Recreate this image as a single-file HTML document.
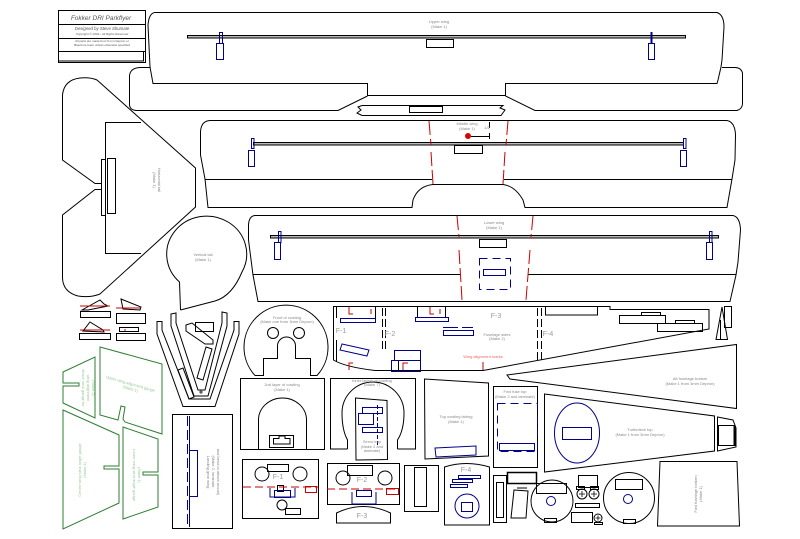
<!DOCTYPE html>
<html><head><meta charset="utf-8"><style>
html,body{margin:0;padding:0;background:#fff;}
svg{display:block;}
text{font-family:"Liberation Sans",sans-serif;}
.t{font-size:4px;fill:#888;text-anchor:middle;}
.f{font-size:7px;fill:#999;text-anchor:middle;}
.g{font-size:4px;fill:#9c9;text-anchor:middle;}
</style></head><body>
<svg width="800" height="539" viewBox="0 0 800 539" xmlns="http://www.w3.org/2000/svg">
<rect width="800" height="539" fill="#fff"/>
<g fill="none" stroke="#000" stroke-width="1">

<!-- Title block -->
<rect x="58.5" y="10.5" width="87" height="52"/>
<line x1="58.5" y1="24.5" x2="145.5" y2="24.5"/>
<line x1="58.5" y1="38.5" x2="145.5" y2="38.5"/>
<line x1="58.5" y1="51.5" x2="145.5" y2="51.5"/>
<line x1="143.5" y1="51.5" x2="143.5" y2="61"/>
<line x1="58.5" y1="61" x2="144" y2="61"/>

<!-- Upper wing -->
<path d="M155,12.5 L717,12.5 Q724,15 724,27 L722,60 L721,67 L718,80 L717,83.5 L505.5,83.5 L505.5,95.5 L367.5,95.5 L367.5,83.5 L153,83.5 L150,67 L148,25 Q149,13 155,12.5 Z"/>
<path d="M150,67.5 L140,67.5 Q130,68 129.5,76 L129.5,105 Q130,110 136,110.5 L338,110.5 L367.5,96 M505.5,96 L535,110.5 L737,110.5 Q742,109 742.5,104 L742.5,73 Q741,67.5 735,67.5 L722,67.5"/>
<path d="M362,105.5 L503,105.5 L500,108 L505,110 L501,115.5 L362,115.5 M362,105.5 L358,107 L361,110 L357,113 L362,115.5"/>
<rect x="409.5" y="106.5" width="33" height="6"/>
<rect x="187.5" y="35.5" width="498" height="2.5" fill="#bbb"/>
<rect x="426.5" y="39.5" width="27" height="8"/>

<!-- Middle wing -->
<path d="M210,120.5 L727,120.5 Q735,122 735.5,135 L735,160 L732,179 L727,207.5 L525,207.5 L523,200 Q515,186 503,184.5 L433,184.5 Q418,186 413,200 L412,207.5 L208,207.5 L205,179 L200.5,155 L200.5,132 Q201,121 210,120.5 Z"/>
<line x1="205" y1="179.5" x2="432" y2="179.5"/>
<line x1="504" y1="179.5" x2="732" y2="179.5"/>
<rect x="253.5" y="142.5" width="430" height="2.5" fill="#bbb"/>
<rect x="454.5" y="145.5" width="28" height="8"/>
<path d="M471,136.5 L489.5,136.5 M489.5,133 L489.5,139 M489.5,122 L489.5,128"/>

<!-- Lower wing -->
<path d="M255,215.5 L733,215.5 Q740,217 740.5,230 L738,262 L736,275 L730,301.5 L258,301.5 L253,275 L248.5,240 L248.5,225 Q249,216 255,215.5 Z"/>
<line x1="253" y1="274.5" x2="460" y2="274.5"/>
<line x1="528" y1="274.5" x2="736" y2="274.5"/>
<rect x="270.5" y="235.5" width="448" height="2.5" fill="#bbb"/>
<rect x="479.5" y="239.5" width="27" height="8"/>

<!-- Horizontal tail -->
<path d="M97,80 L195.5,168 L195.5,207 L100,294 Q90,298 78,296 Q63,292 62.5,278 L62.5,215 L95,189.5 L101,189.5 M101,183.5 L95,183.5 L62.5,160 L62.5,95 Q64,80 80,78 Q90,77 97,80"/>
<path d="M141,122.5 L105.5,122.5 L105.5,253.5 L141,253.5"/>
<rect x="101.5" y="159.5" width="4" height="56"/>
<rect x="107.5" y="158.5" width="8" height="55"/>

<!-- Vertical tail -->
<path d="M180.5,310 L179.5,282 A40,38 0 1 1 242,272 Q232,296 215,301 L180.5,310"/>

<!-- small parts left -->
<rect x="80.5" y="311.5" width="30" height="6"/>
<rect x="79.5" y="333.5" width="31" height="6"/>
<rect x="116.5" y="313.5" width="29" height="10"/>
<rect x="119.5" y="327.5" width="19" height="4"/>
<rect x="116.5" y="333.5" width="29" height="7"/>
<path d="M82,310 L100,300 L104,304 L108,306 L88,310 Z"/>
<path d="M121,299 L141,307 L140,310 L123,309 Z"/>
<path d="M83,331 L90,322 L103,330 L104,332 Z"/>

<!-- Landing gear V pieces -->
<path d="M157,321.5 L162,321.5 L162,330 L189,399 L210,399 L234,330 L234,321.5 L239,321.5 L239,334 L215,406.5 L183,406.5 L157,334 Z"/>
<path d="M171,314 L176,313 L176,323 L198,390 L205,390 L222,323 L222,312 L227,313 L227,326 L208,396 L194,396 L171,326 Z"/>
<path d="M186,325 L192,323 L213,340 L213,344 L205,344 L186,331 Z"/>
<rect x="195.5" y="322.5" width="18" height="9"/>
<path d="M206,347 L212,349 L203,380 L197,378 Z"/>
<path d="M178,370 L183,368 L194,397 L189,399 Z"/>

<!-- Front of cowling -->
<path d="M255,375.5 L263.5,375.5 L263.5,358.5 L277.5,358.5 L277.5,346 A9,9 0 0 1 295.5,346 L295.5,358.5 L310.5,358.5 L310.5,375.5 L317,375.5 A42,42 0 1 0 255,375.5"/>
<circle cx="273" cy="333" r="5.5"/>
<circle cx="299" cy="333" r="5.5"/>

<!-- Fuselage sides -->
<path d="M333.5,306.5 L610,306.5 L610,309.5 L709,309.5 L709,329 L483,370.5 L375,370.5 Q345,367 333.5,360 Z"/>
<path d="M382.5,308 L382.5,352 M385.5,308 L385.5,352" stroke-dasharray="8,3"/>
<path d="M537.5,308 L537.5,362 M541.5,308 L541.5,362" stroke-dasharray="8,3"/>
<path d="M336.5,307 L336.5,318 M375.5,307 L375.5,318 M417.5,307 L417.5,317 M445.5,307 L445.5,317"/>
<path d="M336.5,340 L336.5,362 M398.5,360 L398.5,370"/>
<rect x="545.5" y="306.5" width="52" height="8.5"/>
<rect x="619.5" y="315.5" width="46" height="8"/>
<rect x="657.5" y="323.5" width="45" height="8"/>
<rect x="641.5" y="312.5" width="19" height="3"/>
<rect x="675.5" y="320.5" width="19" height="3"/>
<!-- tailskid -->
<path d="M722,307 L716,339.5 L727.5,339.5 Z M720.5,320 L720.5,339"/>
<rect x="724.5" y="306.5" width="7" height="21"/>

<!-- Aft fuselage bottom -->
<path d="M507,375 L736.5,344.5 L736.5,408.5 L510,379 Z"/>

<!-- Turtledeck top -->
<path d="M544.5,394 L714.5,416 L714.5,451 L544.5,472 Z"/>
<path d="M717.5,417 L733,420 L736,428 L736,447 L717.5,451 Z"/>
<rect x="718.5" y="425.5" width="16" height="20"/>
<line x1="734.5" y1="425" x2="734.5" y2="446" stroke-width="2"/>

<!-- Fwd fuse top -->
<rect x="493.5" y="386.5" width="44" height="81"/>
<!-- Top cowling fairing -->
<path d="M424.5,379 L488.5,383 L488.5,456 L425,459 Z"/>

<!-- 2nd layer cowling -->
<rect x="240.5" y="378.5" width="84" height="71"/>
<path d="M258.5,449 L258.5,420 A24,22 0 0 1 306.5,420 L306.5,449"/>
<rect x="269.5" y="435.5" width="24" height="12"/>
<path d="M273.5,444 L273.5,438.5 L279,438.5 L279,436 L285,436 L285,438.5 L290,438.5 L290,444 Z"/>

<!-- Inner layers of cowling -->
<path d="M347.5,449 L330.5,449 L330.5,378.5 L415.5,378.5 L415.5,449 L397.5,449"/>
<path d="M347.5,449 L347.5,440 Q342,430 342,413 A31,31 0 0 1 404,413 Q404,430 397.5,440 L397.5,449"/>
<path d="M355.5,398 L387,400.5 L387.5,459.5 L356,460 Z" fill="#fff"/>

<!-- F-1 piece -->
<rect x="242.5" y="459.5" width="76" height="59"/>
<circle cx="262" cy="474" r="7"/>
<circle cx="300" cy="474" r="7"/>
<circle cx="282" cy="505" r="5"/>
<rect x="267.5" y="464.5" width="21" height="7"/>
<rect x="285.5" y="508.5" width="15" height="6"/>
<rect x="277.5" y="485.5" width="6" height="6"/>
<!-- F-2 piece -->
<rect x="327.5" y="463.5" width="72" height="41"/>
<circle cx="343" cy="478" r="7"/>
<circle cx="385" cy="478" r="7"/>
<rect x="347.5" y="465.5" width="25" height="10"/>
<!-- F-3 -->
<path d="M336.5,523 L336.5,513 Q363,500 390.5,513 L390.5,523 Z"/>

<!-- Landing gear wing -->
<rect x="172.5" y="414.5" width="60" height="114"/>

<!-- bottom row -->
<rect x="404.5" y="465.5" width="34" height="46"/>
<rect x="414.5" y="467.5" width="12" height="39"/>
<path d="M444.5,525 L444.5,467 Q466,460 489.5,467 L489.5,525 Z"/>
<rect x="493.5" y="475.5" width="13" height="47"/>
<rect x="496.5" y="482.5" width="7" height="35"/>
<rect x="507.5" y="472.5" width="29" height="11" stroke-width="1.5"/>
<path d="M514,490 L528,491 L526,518 L511,518 Z M517,488 L527,488"/>
<circle cx="552" cy="501" r="21"/>
<rect x="536.5" y="483.5" width="30" height="10"/>
<rect x="544.5" y="518.5" width="12" height="4"/>
<rect x="578.5" y="475.5" width="19" height="12"/>
<rect x="576.5" y="486.5" width="8" height="3"/>
<rect x="590.5" y="486.5" width="8" height="3"/>
<circle cx="582" cy="494" r="5"/>
<circle cx="594" cy="494" r="5"/>
<rect x="575.5" y="503.5" width="24" height="4"/>
<rect x="571.5" y="512.5" width="21" height="10"/>
<circle cx="598" cy="518" r="4"/>
<rect x="594.5" y="522.5" width="8" height="2"/>
<circle cx="629" cy="498" r="25.5"/>
<rect x="615.5" y="479.5" width="27" height="10"/>
<rect x="623.5" y="519.5" width="12" height="4"/>
<path d="M660,461.5 L737,461.5 L739.5,526 L657.5,526 Z"/>
</g>

<!-- crosses in circles -->
<g stroke="#000" stroke-width="0.8" fill="none">
<path d="M582,491 L582,497 M579,494 L585,494 M594,491 L594,497 M591,494 L597,494 M598,515.5 L598,520.5 M595.5,518 L600.5,518 M201,390 L201,394 M199,392 L203,392"/>
</g>

<!-- blue parts -->
<g fill="none" stroke="#00008b" stroke-width="1">
<rect x="219.5" y="32.5" width="3" height="11"/>
<rect x="216.5" y="43.5" width="7" height="16"/>
<line x1="651.5" y1="32" x2="651.5" y2="43" stroke-width="2"/>
<rect x="648.5" y="43.5" width="6" height="16"/>
<rect x="251.5" y="138.5" width="2.5" height="10"/>
<rect x="248.5" y="150.5" width="6" height="16"/>
<rect x="683.5" y="138.5" width="2.5" height="10"/>
<rect x="680.5" y="150.5" width="6" height="16"/>
<rect x="278.5" y="231.5" width="2.5" height="11"/>
<rect x="274.5" y="242.5" width="6" height="17"/>
<rect x="709.5" y="231.5" width="2.5" height="11"/>
<rect x="706.5" y="242.5" width="6" height="17"/>
<rect x="479.5" y="258.5" width="31" height="31" stroke-dasharray="8,5"/>
<rect x="483.5" y="269.5" width="22" height="6"/>
<!-- fuselage blue -->
<rect x="340.5" y="318.5" width="35" height="4"/>
<rect x="415.5" y="317.5" width="33" height="4"/>
<rect x="443.5" y="330.5" width="30" height="5"/>
<path d="M443,327.5 L458,327.5 M462,327.5 L473,327.5"/>
<path d="M342,344 L369,350 L367,356 L340,350 Z"/>
<rect x="394.5" y="350.5" width="26" height="10"/>
<rect x="391.5" y="360.5" width="29" height="11"/>
<!-- turtledeck -->
<ellipse cx="577" cy="433" rx="22.5" ry="30"/>
<rect x="562.5" y="427.5" width="29" height="12"/>
<rect x="497.5" y="403.5" width="40" height="48" stroke-dasharray="8,5"/>
<rect x="499.5" y="443.5" width="35" height="7"/>
<path d="M435,448 L476,446 L476,455 L436,457 Z"/>
<!-- F-4 piece -->
<circle cx="467" cy="506" r="12"/>
<rect x="461.5" y="502.5" width="11" height="9"/>
<rect x="458.5" y="475.5" width="22" height="3"/>
<rect x="452.5" y="479.5" width="20" height="3"/>
<rect x="450.5" y="484.5" width="17" height="3"/>
<circle cx="551" cy="501" r="4.5"/>
<circle cx="628" cy="499" r="4.5"/>
<!-- servo tray -->
<rect x="358.5" y="413.5" width="15" height="11"/>
<rect x="362.5" y="407.5" width="20" height="6"/>
<rect x="362.5" y="427.5" width="20" height="5"/>
<line x1="377.5" y1="405" x2="377.5" y2="445" stroke-dasharray="4,2"/>
<!-- F-1 / F-2 blue -->
<rect x="274.5" y="490.5" width="16" height="7"/>
<path d="M270,488 L270,497 L295,497 L295,488"/>
<rect x="356.5" y="490.5" width="15" height="6"/>
<path d="M352,492 L352,504 L376,504 L376,492"/>
<!-- landing gear wing -->
<line x1="187.5" y1="416" x2="187.5" y2="527" stroke-dasharray="10,4"/>
<line x1="189.5" y1="416" x2="189.5" y2="527"/>
<rect x="189.5" y="450.5" width="8" height="46"/>
</g>
<g fill="none" stroke="#00008b" stroke-width="1.6">
<path d="M465,536"/>
</g>

<!-- red -->
<g fill="none" stroke="#cc0000" stroke-width="1">
<path d="M429,121 L431,145 M431,152 L433,184" stroke-dasharray="14,4"/>
<path d="M508,121 L506,145 M505,152 L503,184" stroke-dasharray="14,4"/>
<path d="M457,216 L459,237 M459,250 L462,300" stroke-dasharray="14,4"/>
<path d="M533,216 L531,237 M530,250 L526,300" stroke-dasharray="14,4"/>
<path d="M349,307 L349,314 L353,314 M430,307 L430,314 L434,314 M349,370 L349,363 L353,363 M403,370 L403,363 L408,363"/>
<path d="M371,309 L371,314 M440,309 L440,314 M483,362 L483,370"/>
<path d="M80,306 L110,306 M116,308 L140,308 M80,330 L110,330 M125,329 L125,331"/>
<path d="M243,487 L318,487" stroke-dasharray="8,4"/>
<path d="M327,489 L399,489" stroke-dasharray="8,4"/>
<rect x="305.5" y="486.5" width="11" height="6"/>
<rect x="386.5" y="488.5" width="12" height="6"/>
</g>
<circle cx="468" cy="136" r="3" fill="#dd0000"/>

<!-- green gauges -->
<g fill="none" stroke="#2e7d32" stroke-width="1">
<path d="M63,372 L95,357 L95,418 L63,403 L63,386 L79,386 L79,383 L63,383 Z"/>
<path d="M100,347 L162,364 L162,434 L125,422 L123,419 L125,407 L121,406 L118,420 L100,415 Z"/>
<path d="M63,410 L119,435 L119,466 L104,466 L104,469 L119,469 L119,503 L63,529 Z"/>
<path d="M123,427 L158,439 L158,472 L143,472 L143,475 L158,475 L158,507 L123,519 Z"/>
</g>

<!-- texts -->
<text x="101" y="20" style="font-size:6.5px;font-style:italic;fill:#555;text-anchor:middle">Fokker DRI Parkflyer</text>
<text x="102" y="30" style="font-size:4.3px;font-style:italic;fill:#555;text-anchor:middle">Designed by Steve Shumate</text>
<text x="102" y="35" style="font-size:3px;font-style:italic;fill:#555;text-anchor:middle">Copyright © 2003 - All Rights Reserved</text>
<text x="102" y="42" style="font-size:3px;fill:#555;text-anchor:middle">All parts are made from 6 mm Depron or</text>
<text x="102" y="46" style="font-size:3px;fill:#555;text-anchor:middle">BlueCore foam unless otherwise specified</text>

<text class="t" x="439" y="23">Upper wing</text><text class="t" x="439" y="28">(Make 1)</text>
<text class="t" x="467" y="125">Middle wing</text><text class="t" x="467" y="130">(Make 1)</text>
<text class="t" x="487" y="129">1/2</text>
<text class="t" x="494" y="224">Lower wing</text><text class="t" x="494" y="229">(Make 1)</text>
<text class="t" x="203" y="256">Vertical tail</text><text class="t" x="203" y="261">(Make 1)</text>
<text class="t" transform="translate(158,180) rotate(90)">Horizontal tail</text>
<text class="t" transform="translate(153,180) rotate(90)">(Make 1)</text>
<text class="t" x="287" y="319">Front of cowling</text><text class="t" x="287" y="323">(Make one from 3mm Depron)</text>
<text class="t" x="497" y="336">Fuselage sides</text><text class="t" x="497" y="340">(Make 2)</text>
<text x="483" y="358" style="font-size:4px;fill:#e66;text-anchor:middle">Wing alignment marks</text>
<text class="t" x="690" y="380">Aft fuselage bottom</text><text class="t" x="690" y="385">(Make 1 from 3mm Depron)</text>
<text class="t" x="282" y="386">2nd layer of cowling</text><text class="t" x="282" y="391">(Make 1)</text>
<text class="t" x="372" y="382">Inner layers of cowling</text><text class="t" x="372" y="386">(Make 7)</text>
<text class="t" x="372" y="443">Servo tray</text><text class="t" x="372" y="448">(Make 2 and</text><text class="t" x="372" y="452">laminate)</text>
<text class="t" x="456" y="418">Top cowling fairing</text><text class="t" x="456" y="423">(Make 1)</text>
<text class="t" x="515" y="393">Fwd fuse top</text><text class="t" x="515" y="398">(Make 2 and laminate)</text>
<text class="t" x="640" y="431">Turtledeck top</text><text class="t" x="640" y="436">(Make 1 from 3mm Depron)</text>
<text class="t" transform="translate(697,494) rotate(-90)">Fwd fuselage bottom</text>
<text class="t" transform="translate(702,494) rotate(-90)">(Make 1)</text>
<text class="t" transform="translate(207,472) rotate(90)">Landing gear wing</text>
<text class="t" transform="translate(212,472) rotate(90)">(Make 2, laminate,</text>
<text class="t" transform="translate(217,472) rotate(90)">and bend to attach mount)</text>

<text class="g" transform="translate(130,385) rotate(16)">Upper wing alignment gauge</text>
<text class="g" transform="translate(130,390) rotate(16)">(Make 1)</text>
<text class="g" transform="translate(82,388) rotate(90)">Brace strut gauge for</text>
<text class="g" transform="translate(87,388) rotate(90)">wing alignment</text>
<text class="g" transform="translate(92,388) rotate(90)">(Make 2)</text>
<text class="g" transform="translate(81,470) rotate(-90)">Center wing strut angle gauge</text>
<text class="g" transform="translate(86,470) rotate(-90)">(Make 1)</text>
<text class="g" transform="translate(133,475) rotate(90)">Lower wing strut angle gauge</text>
<text class="g" transform="translate(138,475) rotate(90)">(Make 1)</text>

<text class="f" x="341" y="333">F-1</text>
<text class="f" x="390" y="336">F-2</text>
<text class="f" x="496" y="318">F-3</text>
<text class="f" x="548" y="336">F-4</text>
<text class="f" x="278" y="479">F-1</text>
<text class="f" x="362" y="482">F-2</text>
<text class="f" x="362" y="518">F-3</text>
<text class="f" x="466" y="472">F-4</text>
</svg>
</body></html>
